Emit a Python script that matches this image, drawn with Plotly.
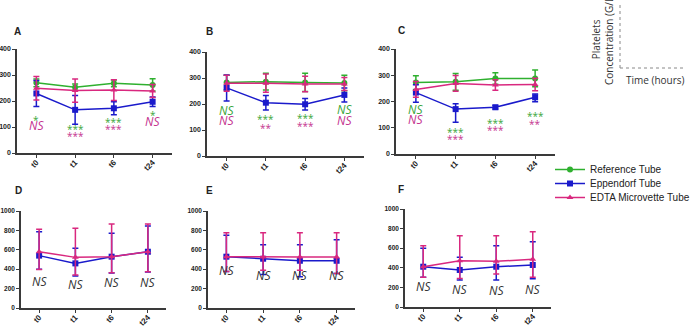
import plotly.graph_objects as go

W, H = 694, 326

times = ["t0", "t1", "t6", "t24"]

# ---- Top row (A, B, C): 0-400 ----
ref_A = [270, 253, 268, 262]
ref_A_err = [15, 12, 13, 24]
epp_A = [229, 166, 172, 197]
epp_A_err = [50, 55, 25, 18]
edta_A = [249, 240, 242, 238]
edta_A_err = [45, 45, 40, 25]

ref_B = [283, 286, 283, 281]
ref_B_err = [28, 32, 35, 30]
epp_B = [262, 205, 199, 235]
epp_B_err = [50, 28, 22, 27]
edta_B = [280, 280, 277, 277]
edta_B_err = [31, 35, 30, 25]

ref_C = [272, 275, 288, 288]
ref_C_err = [26, 32, 22, 32]
epp_C = [234, 171, 178, 216]
epp_C_up = [30, 20, 7, 13]
epp_C_dn = [37, 50, 7, 17]
edta_C = [246, 269, 263, 265]
edta_C_err = [30, 30, 20, 24]

# ---- Bottom row (D, E, F): 0-1000 ----
epp_D = [540, 460, 529, 580]
epp_D_up = [247, 155, 241, 265]
epp_D_dn = [140, 130, 169, 210]
edta_D = [580, 522, 529, 580]
edta_D_up = [231, 299, 337, 286]
edta_D_dn = [184, 182, 165, 206]

epp_E = [529, 508, 487, 487]
epp_E_up = [222, 145, 166, 217]
epp_E_dn = [153, 163, 166, 132]
edta_E = [529, 525, 525, 525]
edta_E_up = [247, 251, 251, 251]
edta_E_dn = [153, 135, 135, 170]

epp_F = [411, 378, 411, 429]
epp_F_up = [188, 129, 215, 237]
epp_F_dn = [108, 102, 135, 141]
edta_F = [411, 472, 466, 487]
edta_F_up = [215, 256, 262, 281]
edta_F_dn = [108, 182, 129, 184]

# significance labels (green = vs reference, pink = vs EDTA microvette)
sig_green_A = ["*", "***", "***", "*"]
sig_pink_A = ["NS", "***", "***", "NS"]
sig_green_A_y = [140, 104, 131, 159]
sig_pink_A_y = [104, 78, 104, 123]

sig_green_B = ["NS", "***", "***", "NS"]
sig_pink_B = ["NS", "**", "***", "NS"]
sig_green_B_y = [174, 154, 158, 177]
sig_pink_B_y = [138, 119, 128, 138]

sig_green_C = ["NS", "***", "***", "***"]
sig_pink_C = ["NS", "***", "***", "**"]
sig_green_C_y = [168, 94, 130, 157]
sig_pink_C_y = [133, 69, 102, 126]

sig_D = ["NS", "NS", "NS", "NS"]
sig_D_y = [271, 247, 265, 265]
sig_E = ["NS", "NS", "NS", "NS"]
sig_E_y = [382, 331, 331, 331]
sig_F = ["NS", "NS", "NS", "NS"]
sig_F_y = [214, 180, 173, 180]

GREEN = "#2fb02f"
BLUE = "#1a1acb"
PINK = "#d9287f"
GREEN_T = "#3aa63a"
PINK_T = "#c4338f"

names = ["Reference Tube", "Eppendorf Tube", "EDTA Microvette Tube"]
legend_ids = ["legend", "legend2", "legend3"]
legend_px_y = [155, 169, 183]

fig = go.Figure()


def px_dom_x(a, b):
    return [a / W, b / W]


def px_dom_y(top, bottom):
    return [1 - bottom / H, 1 - top / H]


panels = [
    ("A", 1, (17, 172), (49, 153), 400, 100, (12, 32)),
    ("B", 2, (207, 364), (52, 156), 400, 100, (204, 31)),
    ("C", 3, (396, 555), (49, 154), 400, 100, (396, 30)),
    ("D", 4, (21, 166), (211, 308), 1000, 200, (13, 190)),
    ("E", 5, (208, 355), (211, 308), 1000, 200, (204, 190)),
    ("F", 6, (405, 551), (209, 307), 1000, 200, (396, 189)),
]

series = {
    1: [(ref_A, ref_A_err, ref_A_err, GREEN, "circle", 0),
        (epp_A, epp_A_err, epp_A_err, BLUE, "square", 1),
        (edta_A, edta_A_err, edta_A_err, PINK, "triangle-up", 2)],
    2: [(ref_B, ref_B_err, ref_B_err, GREEN, "circle", 0),
        (epp_B, epp_B_err, epp_B_err, BLUE, "square", 1),
        (edta_B, edta_B_err, edta_B_err, PINK, "triangle-up", 2)],
    3: [(ref_C, ref_C_err, ref_C_err, GREEN, "circle", 0),
        (epp_C, epp_C_up, epp_C_dn, BLUE, "square", 1),
        (edta_C, edta_C_err, edta_C_err, PINK, "triangle-up", 2)],
    4: [(epp_D, epp_D_up, epp_D_dn, BLUE, "square", 1),
        (edta_D, edta_D_up, edta_D_dn, PINK, "triangle-up", 2)],
    5: [(epp_E, epp_E_up, epp_E_dn, BLUE, "square", 1),
        (edta_E, edta_E_up, edta_E_dn, PINK, "triangle-up", 2)],
    6: [(epp_F, epp_F_up, epp_F_dn, BLUE, "square", 1),
        (edta_F, edta_F_up, edta_F_dn, PINK, "triangle-up", 2)],
}

layout = dict(
    width=W, height=H,
    margin=dict(l=0, r=0, t=0, b=0, autoexpand=False),
    paper_bgcolor="white", plot_bgcolor="white",
    showlegend=True,
)
for lid, ly in zip(legend_ids, legend_px_y):
    layout[lid] = dict(x=550 / W, y=1 - ly / H, xanchor="left", yanchor="top",
                       font=dict(family="Liberation Sans", size=10, color="#222"),
                       itemwidth=30, bgcolor="rgba(0,0,0,0)", borderwidth=0)

annotations = []
axis_col = "#3a3a3a"

for letter, i, (xa, xb), (yt, yb), ymax, dt, (lx, ly) in panels:
    xs = "x" if i == 1 else f"x{i}"
    ys = "y" if i == 1 else f"y{i}"
    layout["xaxis" if i == 1 else f"xaxis{i}"] = dict(
        domain=px_dom_x(xa, xb), anchor=ys, type="category", automargin=False,
        range=[-0.5, 3.5], categoryorder="array", categoryarray=times,
        showline=True, linecolor=axis_col, linewidth=1.5, showgrid=False, zeroline=False,
        ticks="outside", ticklen=3, tickwidth=1.2, tickcolor=axis_col, ticklabelstandoff=-3,
        tickangle=-45, tickfont=dict(family="Liberation Sans", size=8, color="#222", weight="bold"),
        fixedrange=True,
    )
    layout["yaxis" if i == 1 else f"yaxis{i}"] = dict(
        domain=px_dom_y(yt, yb), anchor=xs, range=[0, ymax], automargin=False,
        showline=True, linecolor=axis_col, linewidth=1.5, showgrid=False, zeroline=False,
        ticks="outside", ticklen=3, tickwidth=1.2, tickcolor=axis_col, dtick=dt,
        tickfont=dict(family="Liberation Sans", size=7 if ymax == 400 else 6.5, color="#222", weight="bold"),
        fixedrange=True,
    )
    for vals, up, dn, col, sym, k in series[i]:
        fig.add_trace(go.Scatter(
            x=times, y=vals, xaxis=xs, yaxis=ys, mode="lines+markers",
            name=names[k], legendgroup=names[k], showlegend=(i == 1),
            legend=legend_ids[k],
            line=dict(color=col, width=1.5),
            marker=dict(symbol=sym, size=6, color=col),
            error_y=dict(type="data", symmetric=False, array=up, arrayminus=dn,
                         color=col, thickness=1.5, width=3),
        ))
    annotations.append(dict(text=f"<b>{letter}</b>", x=lx / W, y=1 - ly / H, xref="paper", yref="paper",
                            showarrow=False, xanchor="left", yanchor="middle",
                            font=dict(family="Liberation Sans", size=10, color="#222")))


def sig_ann(labels, yvals, xs, ys, color):
    for t, lab, yv in zip(times, labels, yvals):
        is_ns = lab == "NS"
        annotations.append(dict(
            text=f"<i>{lab}</i>" if is_ns else lab, x=t, y=yv, xref=xs, yref=ys,
            showarrow=False, xanchor="center", yanchor="middle",
            yshift=0 if is_ns else -3,
            font=dict(family="Open Sans", size=12 if is_ns else 10, color=color),
        ))


sig_ann(sig_green_A, sig_green_A_y, "x", "y", GREEN_T)
sig_ann(sig_pink_A, sig_pink_A_y, "x", "y", PINK_T)
sig_ann(sig_green_B, sig_green_B_y, "x2", "y2", GREEN_T)
sig_ann(sig_pink_B, sig_pink_B_y, "x2", "y2", PINK_T)
sig_ann(sig_green_C, sig_green_C_y, "x3", "y3", GREEN_T)
sig_ann(sig_pink_C, sig_pink_C_y, "x3", "y3", PINK_T)
sig_ann(sig_D, sig_D_y, "x4", "y4", "#333")
sig_ann(sig_E, sig_E_y, "x5", "y5", "#333")
sig_ann(sig_F, sig_F_y, "x6", "y6", "#333")

# inset axis key (top right)
annotations.append(dict(text="Platelets<br>Concentration (G/L)", x=603 / W, y=1 - 40 / H,
                        xref="paper", yref="paper", showarrow=False, textangle=-90,
                        xanchor="center", yanchor="middle",
                        font=dict(family="Open Sans", size=10, color="#333")))
annotations.append(dict(text="Time (hours)", x=655 / W, y=1 - 80 / H,
                        xref="paper", yref="paper", showarrow=False,
                        xanchor="center", yanchor="middle",
                        font=dict(family="Open Sans", size=10, color="#333")))
shapes = [
    dict(type="line", xref="paper", yref="paper", x0=620 / W, x1=620 / W, y0=1 - 68 / H, y1=1 - 2 / H,
         line=dict(color="#888", width=1, dash="dot")),
    dict(type="line", xref="paper", yref="paper", x0=620 / W, x1=686 / W, y0=1 - 68 / H, y1=1 - 68 / H,
         line=dict(color="#888", width=1, dash="dot")),
]

layout["annotations"] = annotations
layout["shapes"] = shapes
fig.update_layout(**layout)
fig.write_html("out.html", config={"displayModeBar": False},
               post_script="document.body.style.margin='0';document.body.style.padding='0';")
